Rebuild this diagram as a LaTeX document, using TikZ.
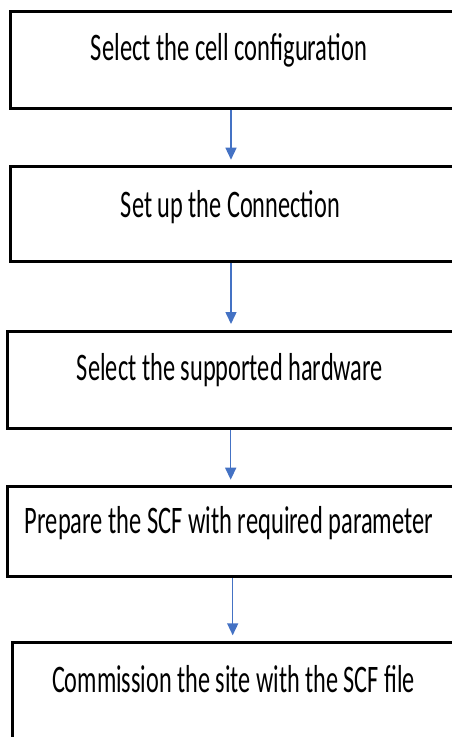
\documentclass[tikz,border=0pt]{standalone}
\usepackage{fontspec}
\setmainfont{Carlito}
\usetikzlibrary{arrows.meta}
\definecolor{arrowblue}{RGB}{68,114,196}
\newcommand{\fittext}[2]{\resizebox{#1pt}{\height}{#2}}
\begin{document}
\begin{tikzpicture}[x=1pt,y=-1pt,
  stepbox/.style={draw=black,line width=3pt,rectangle,inner sep=0pt,outer sep=0pt,anchor=north west,minimum width=460pt},
  steptext/.style={anchor=base,inner sep=0pt,outer sep=0pt,font=\fontsize{39}{44}\selectfont},
  arr/.style={draw=arrowblue,line width=1.5pt,-{Triangle[width=11pt,length=12pt]},shorten >=7pt,shorten <=1.5pt}]
\useasboundingbox (0,0) rectangle (452,737);
\clip (0,0) rectangle (452,737);
\node[stepbox,minimum height=96.6pt] (b1) at (10,11.7) {};
\node[stepbox,minimum height=94.6pt] (b2) at (10,166.7) {};
\node[stepbox,minimum height=97.3pt] (b3) at (7.7,331) {};
\node[stepbox,minimum height=90pt] (b4) at (7.7,486.7) {};
\node[stepbox,minimum height=130pt] (b5) at (12.3,642.3) {};
\node[steptext] (t1) at (229,60) {\fittext{276}{Select the cell configuration}};
\node[steptext] (t2) at (230.5,217) {\fittext{219}{Set up the Connection}};
\node[steptext] (t3) at (230,380) {\fittext{306}{Select the supported hardware}};
\node[steptext] (t4) at (229,533) {\fittext{408}{Prepare the SCF with required parameter}};
\node[steptext] (t5) at (233.5,692) {\fittext{363}{Commission the site with the SCF file}};
\coordinate (a1) at (231,0);
\coordinate (a2) at (231,0);
\coordinate (a3) at (230.7,0);
\coordinate (a4) at (232.7,0);
\draw[arr] (b1.south -| a1) -- (b2.north -| a1);
\draw[arr] (b2.south -| a2) -- (b3.north -| a2);
\draw[arr] (b3.south -| a3) -- (b4.north -| a3);
\draw[arr] (b4.south -| a4) -- (b5.north -| a4);
\end{tikzpicture}
\end{document}
